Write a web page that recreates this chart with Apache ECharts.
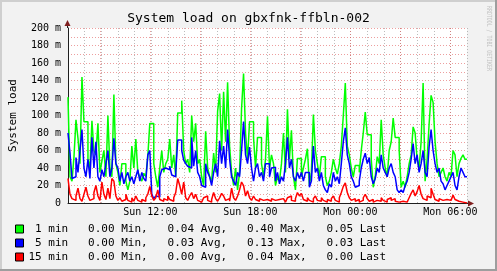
<!DOCTYPE html>
<html><head><meta charset="utf-8">
<script src="https://cdn.jsdelivr.net/npm/echarts@6/dist/echarts.min.js"></script>
<style>html,body{margin:0;padding:0;background:#f2f2f2}#c{width:497px;height:271px}</style>
</head><body><div id="c"></div>
<script>
// ---------- data ----------
const chartTitle = 'System load on gbxfnk-ffbln-002';
const yAxisTitle = 'System load';
const seriesNames = ['1 min', '5 min', '15 min'];
const seriesColors = ['#00ff00', '#0000ff', '#ff0000'];
const statMin  = ['0.00', '0.00', '0.00'];
const statAvg  = ['0.04', '0.03', '0.00'];
const statMax  = ['0.40', '0.13', '0.04'];
const statLast = ['0.05', '0.03', '0.00'];
// time in hours since Sunday 00:00
const startHour = 7, endHour = 31;
const xTickHours = [12, 18, 24, 30];
const xTickNames = ['Sun 12:00', 'Sun 18:00', 'Mon 00:00', 'Mon 06:00'];
const yTicks = [0, 20, 40, 60, 80, 100, 120, 140, 160, 180, 200];
// load values in milli (m), one every 0.12 h
const load1 = [121,30,25,53,95,74,45,144,93,93,50,40,94,60,55,91,35,48,60,30,
100,40,30,124,45,35,20,45,45,25,15,25,65,40,73,35,30,25,34,30,
53,91,91,45,30,18,40,60,35,45,50,73,40,55,30,103,103,117,60,45,
50,35,100,70,91,45,50,30,20,82,40,30,25,57,35,105,125,60,127,70,
138,65,35,20,40,15,35,108,148,80,50,93,93,75,40,75,75,45,30,50,
99,40,55,45,20,30,25,45,80,35,107,50,83,30,15,51,51,30,40,50,
62,20,35,101,60,45,30,53,53,30,20,25,35,50,40,33,45,65,100,137,
65,55,40,30,43,43,35,60,80,104,78,78,50,18,30,53,45,95,55,40,
30,60,70,97,75,75,60,18,25,18,30,45,55,87,80,50,40,70,137,25,
50,90,123,115,70,45,30,35,40,30,25,35,30,60,55,30,45,51,55,50];
const load5 = [80,57,28,30,52,35,60,84,40,30,50,28,75,40,70,30,25,38,30,45,
60,30,40,74,45,40,25,35,22,30,35,25,30,22,30,38,25,35,28,25,
55,60,10,5,8,7,30,38,40,42,38,42,32,30,35,72,72,60,49,45,
42,40,75,42,60,35,30,20,18,45,35,30,20,35,45,30,71,45,65,40,
84,50,30,25,20,35,30,60,93,55,45,64,40,25,40,45,30,35,25,45,
45,30,40,41,25,35,22,30,25,45,75,40,50,30,25,35,28,35,25,35,
35,18,25,65,35,40,25,35,20,15,12,22,18,35,25,30,22,45,70,86,
55,45,30,25,18,20,25,40,50,57,45,52,30,22,28,40,35,55,40,35,
30,40,45,35,30,15,12,15,12,20,25,35,50,68,45,55,35,45,60,35,
30,64,84,60,45,35,40,25,22,15,20,25,30,35,20,15,30,40,35,30];
const load15 = [28,10,5,3,8,17,5,2,10,18,8,3,5,12,20,8,3,24,10,4,
17,5,28,25,8,3,6,2,4,10,3,1,6,2,8,3,1,4,2,6,
10,19,8,3,6,15,4,2,5,3,8,4,2,6,12,28,20,10,24,6,
3,8,12,5,10,3,1,2,6,8,3,1,4,12,5,2,6,11,8,3,
5,2,17,6,3,8,15,24,20,8,14,6,3,8,4,2,5,3,1,4,
6,2,5,3,1,4,2,5,3,1,6,8,3,2,5,12,8,11,4,2,
6,3,1,5,8,3,2,6,3,1,4,2,5,8,3,1,6,12,19,23,
12,6,3,5,2,4,1,3,6,10,5,2,4,1,3,5,2,6,3,1,
4,6,3,5,2,1,3,2,4,1,3,6,11,15,8,13,20,10,5,3,
8,6,17,10,4,2,5,3,1,4,6,3,5,9,4,2,3,1,2,0];

// ---------- layout ----------
const PL = 67, PT = 28, PW = 400, PH = 175;
const hourPx = PW / (endHour - startHour);
const mono = 'DejaVu Sans Mono';
const gridMinor = 'rgba(143,143,143,0.6)';
const gridMajor = 'rgba(222,79,79,0.55)';
const arrowCol = '#801f1f';
const axisCol = '#1f1f1f';

function buildSeries(vals) {
  const step = (endHour - startHour) / vals.length;
  const d = vals.map((v, i) => [startHour + i * step, v]);
  d.push([endHour, vals[vals.length - 1]]);
  return d;
}
const allLoads = [load1, load5, load15];

function pad(s, n) { while (s.length < n) s = ' ' + s; return s; }

const chart = echarts.init(document.getElementById('c'), null, {renderer: 'canvas'});
chart.setOption({
  animation: false,
  backgroundColor: '#f2f2f2',
  title: {
    text: chartTitle, left: 'center', top: 12, padding: 0,
    textStyle: {fontFamily: mono, fontSize: 13, fontWeight: 'normal', color: '#000'}
  },
  legend: {
    orient: 'vertical', left: 15, top: 222, padding: 0,
    icon: 'rect', itemWidth: 8, itemHeight: 8, itemGap: 0, itemTextGap: 8,
    itemStyle: {borderColor: '#000', borderWidth: 1},
    selectedMode: false,
    textStyle: {fontFamily: mono, fontSize: 11, lineHeight: 14, color: '#000'},
    data: seriesNames,
    formatter: function (name) {
      const i = seriesNames.indexOf(name);
      return pad(name, 6) + '   ' + statMin[i] + ' Min,   ' + statAvg[i] + ' Avg,   ' +
        statMax[i] + ' Max,   ' + statLast[i] + ' Last';
    }
  },
  grid: [
    {left: PL, top: PT, width: PW, height: PH, show: true, backgroundColor: '#ffffff', borderWidth: 0, containLabel: false},
    {left: PL - hourPx, top: PT, width: PW + hourPx, height: PH, show: false, containLabel: false}
  ],
  xAxis: [
    {
      type: 'value', gridIndex: 0, min: startHour, max: endHour, interval: 1,
      axisLine: {show: true, lineStyle: {color: axisCol, width: 1}},
      axisTick: {show: false}, axisLabel: {show: false},
      splitLine: {show: true, lineStyle: {color: gridMinor, type: [1, 2], width: 1}}
    },
    {
      type: 'value', gridIndex: 1, min: startHour - 1, max: endHour, interval: 3,
      axisLine: {show: false}, axisTick: {show: false},
      splitLine: {show: true, showMinLine: false, showMaxLine: false,
        lineStyle: {color: gridMajor, type: [1, 2], width: 1}},
      axisLabel: {
        show: true, margin: 4, fontFamily: mono, fontSize: 10, color: '#000',
        formatter: function (v) {
          const k = xTickHours.indexOf(v);
          return k >= 0 ? xTickNames[k] : '';
        }
      }
    }
  ],
  yAxis: [
    {
      type: 'value', gridIndex: 0, min: yTicks[0], max: yTicks[yTicks.length - 1], interval: yTicks[1] - yTicks[0],
      name: yAxisTitle, nameLocation: 'middle', nameGap: 49, nameRotate: 90,
      nameTextStyle: {fontFamily: mono, fontSize: 11, color: '#000'},
      axisLine: {show: true, lineStyle: {color: axisCol, width: 1}},
      axisTick: {show: false},
      axisLabel: {margin: 7, fontFamily: mono, fontSize: 10, color: '#000',
        formatter: function (v) { return v === 0 ? '0' : v + ' m'; }},
      splitLine: {show: true, lineStyle: {color: gridMajor, type: [1, 2], width: 1}},
      minorTick: {show: false, splitNumber: 2},
      minorSplitLine: {show: true, lineStyle: {color: gridMajor, type: [1, 2], width: 1}}
    },
    {type: 'value', gridIndex: 1, min: 0, max: 1, show: false}
  ],
  series: seriesNames.map((n, i) => ({
    name: n, type: 'line', xAxisIndex: 0, yAxisIndex: 0, step: 'end',
    symbol: 'none', color: seriesColors[i],
    lineStyle: {color: seriesColors[i], width: 1.5},
    data: buildSeries(allLoads[i]), z: 2 + i
  })),
  graphic: [
    {type: 'rect', shape: {x: 0, y: 0, width: 497, height: 2}, style: {fill: '#cfcfcf'}, silent: true},
    {type: 'rect', shape: {x: 0, y: 0, width: 2, height: 271}, style: {fill: '#cfcfcf'}, silent: true},
    {type: 'rect', shape: {x: 495, y: 0, width: 2, height: 271}, style: {fill: '#9e9e9e'}, silent: true},
    {type: 'rect', shape: {x: 0, y: 269, width: 497, height: 2}, style: {fill: '#9e9e9e'}, silent: true},
    {type: 'line', shape: {x1: PL + 0.5, y1: PT - 6, x2: PL + 0.5, y2: PT}, style: {stroke: axisCol, lineWidth: 1}, z: 10, silent: true},
    {type: 'line', shape: {x1: PL + PW, y1: PT + PH + 0.5, x2: PL + PW + 4, y2: PT + PH + 0.5}, style: {stroke: axisCol, lineWidth: 1}, z: 10, silent: true},
    {type: 'polygon', shape: {points: [[PL - 2.5, PT - 2], [PL + 3.5, PT - 2], [PL + 0.5, PT - 8]]}, style: {fill: arrowCol}, z: 11, silent: true},
    {type: 'polygon', shape: {points: [[PL + PW + 1, PT + PH - 2.5], [PL + PW + 1, PT + PH + 3.5], [PL + PW + 7, PT + PH + 0.5]]}, style: {fill: arrowCol}, z: 11, silent: true},
    {type: 'text', x: 489, y: 6, rotation: -Math.PI / 2, scaleX: 0.7, silent: true,
      style: {text: 'RRDTOOL / TOBI OETIKER', fontFamily: mono, fontSize: 7, fill: '#c4c4c4', align: 'left', verticalAlign: 'middle'}}
  ]
});
</script></body></html>
